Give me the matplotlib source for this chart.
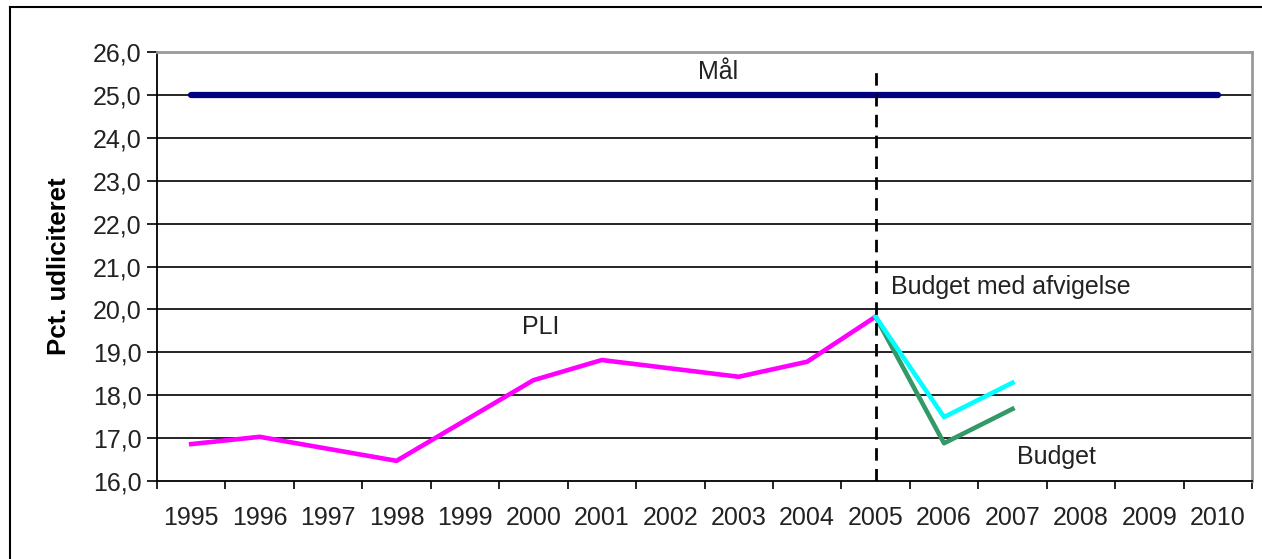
import numpy as np
import matplotlib
matplotlib.use("Agg")
import matplotlib.pyplot as plt
from matplotlib.lines import Line2D

plt.rcParams['font.family'] = ['Liberation Sans', 'DejaVu Sans']

# data
years = list(range(1995, 2011))
pli_years = [1995, 1996, 1998, 2000, 2001, 2003, 2004, 2005]
pli_values = [16.86, 17.03, 16.47, 18.35, 18.82, 18.43, 18.78, 19.83]
afv_years = [2005, 2006, 2007]
afv_values = [19.83, 17.49, 18.29]
budget_years = [2005, 2006, 2007]
budget_values = [19.83, 16.88, 17.68]
maal_years = [1995, 2010]
maal_values = [25.0, 25.0]
y_ticks = [16, 17, 18, 19, 20, 21, 22, 23, 24, 25, 26]

fig = plt.figure(figsize=(12.62, 5.59), dpi=100)
ax = fig.add_axes([157 / 1262, 1 - 481 / 559, (1252 - 157) / 1262, (481 - 52) / 559])

ax.set_xlim(1994.5, 2010.5)
ax.set_ylim(16, 26)

for yv in y_ticks[1:-1]:
    ax.axhline(yv, color='black', lw=1.2, zorder=1)

ax.plot(maal_years, maal_values, color='#000080', lw=4.5, solid_capstyle='round', zorder=3)
ax.plot(pli_years, pli_values, color='#FF00FF', lw=3.3, zorder=4)
ax.plot(budget_years, budget_values, color='#339966', lw=3.3, zorder=4)
ax.plot(afv_years, afv_values, color='#00FFFF', lw=3.3, zorder=5)
ax.plot([2005, 2005], [16, 25.58], color='black', lw=2, linestyle=(0, (4.5, 3)), zorder=6)

ax.text(2002.7, 25.53, 'Mål', fontsize=18, ha='center', va='center', color='#222222')
ax.text(2000.1, 19.59, 'PLI', fontsize=18, ha='center', va='center', color='#222222')
ax.text(2005.22, 20.52, 'Budget med afvigelse', fontsize=18, ha='left', va='center', color='#222222')
ax.text(2007.07, 16.56, 'Budget', fontsize=18, ha='left', va='center', color='#222222')

# category axis: ticks between years, labels centred
ax.set_xticks(np.arange(1994.5, 2011, 1.0))
ax.set_xticklabels([])
ax.set_xticks(years, minor=True)
ax.set_xticklabels([str(y) for y in years], minor=True, fontsize=18, color='#222222')
ax.tick_params(axis='x', which='major', direction='out', length=6, width=1.2, color='black')
ax.tick_params(axis='x', which='minor', length=0, pad=18)

ax.set_yticks(y_ticks)
ax.set_yticklabels([('%.1f' % v).replace('.', ',') for v in y_ticks], fontsize=18, color='#222222')
ax.tick_params(axis='y', direction='out', length=7, width=1.2, color='black', pad=4)

ax.set_ylabel('Pct. udliciteret', fontsize=18.5, fontweight='bold', labelpad=16)

ax.spines['left'].set_color('black')
ax.spines['left'].set_linewidth(1.3)
ax.spines['bottom'].set_color('black')
ax.spines['bottom'].set_linewidth(1.3)
ax.spines['top'].set_color('#999999')
ax.spines['top'].set_linewidth(2)
ax.spines['right'].set_color('#999999')
ax.spines['right'].set_linewidth(2)

# outer chart frame
fig.add_artist(Line2D([10 / 1262, 1.0], [1 - 7 / 559, 1 - 7 / 559], color='black', lw=1.5,
                      transform=fig.transFigure))
fig.add_artist(Line2D([10 / 1262, 10 / 1262], [0.0, 1 - 7 / 559], color='black', lw=1.5,
                      transform=fig.transFigure))

fig.savefig('out.png', dpi=100)
